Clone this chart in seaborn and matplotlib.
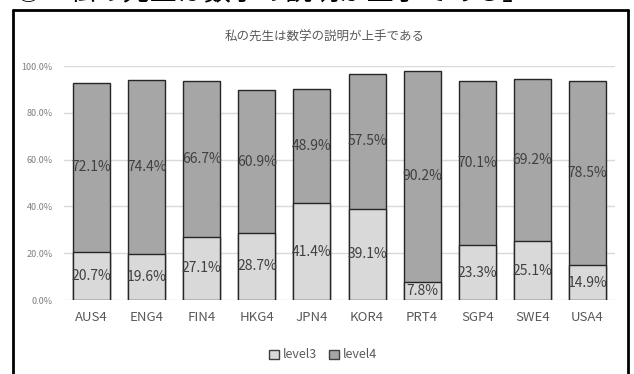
import matplotlib
matplotlib.use("Agg")
import matplotlib.pyplot as plt
import seaborn as sns
import pandas as pd
from matplotlib.patches import Patch
from matplotlib.lines import Line2D
from matplotlib.ticker import FuncFormatter

# Data
countries = ["AUS4", "ENG4", "FIN4", "HKG4", "JPN4", "KOR4", "PRT4", "SGP4", "SWE4", "USA4"]
level3 = [20.7, 19.6, 27.1, 28.7, 41.4, 39.1, 7.8, 23.3, 25.1, 14.9]
level4 = [72.1, 74.4, 66.7, 60.9, 48.9, 57.5, 90.2, 70.1, 69.2, 78.5]
series_names = ["level3", "level4"]
chart_title = "私の先生は数学の説明が上手である"
heading = "①「私の先生は数学の説明が上手である」"

sns.set_theme(style="white")
plt.rcParams["font.family"] = ["Noto Sans CJK JP", "DejaVu Sans"]

df = pd.DataFrame({"country": countries, "level3": level3, "level4": level4})
df["total"] = df["level3"] + df["level4"]

c3, c4 = "#d9d9d9", "#a6a6a6"
edge = "#262626"

W, H = 634, 374
fig = plt.figure(figsize=(W / 100, H / 100), dpi=100)
ax = fig.add_axes([64 / W, 1 - 300 / H, (615 - 64) / W, (300 - 66) / H])

# Stacked bars: full height in the level4 colour, level3 drawn over it
sns.barplot(data=df, x="country", y="total", color=c4, saturation=1,
            width=0.67, edgecolor=edge, linewidth=1.0, ax=ax, zorder=3)
sns.barplot(data=df, x="country", y="level3", color=c3, saturation=1,
            width=0.67, edgecolor=edge, linewidth=1.0, ax=ax, zorder=4)

# Segment value labels
for i, (a, b) in enumerate(zip(level3, level4)):
    ax.text(i, a / 2, f"{a:.1f}%", ha="center", va="center",
            fontsize=10, color="#404040", zorder=5)
    ax.text(i, a + b / 2, f"{b:.1f}%", ha="center", va="center",
            fontsize=10, color="#404040", zorder=5)

ax.set_ylim(0, 100)
ax.set_xlim(-0.5, len(countries) - 0.5)
ax.set_yticks([0, 20, 40, 60, 80, 100])
ax.yaxis.set_major_formatter(FuncFormatter(lambda v, p: f"{v:.1f}%"))
ax.grid(axis="y", color="#d9d9d9", linewidth=1.0, zorder=0)
ax.grid(axis="x", visible=False)
for s in ax.spines.values():
    s.set_visible(False)
ax.tick_params(axis="y", labelsize=6.5, labelcolor="#7f7f7f", length=0, pad=8)
ax.tick_params(axis="x", labelsize=9.5, labelcolor="#595959", length=0, pad=8)
ax.set_xlabel("")
ax.set_ylabel("")

# Title
fig.text(325 / W, 1 - 37 / H, chart_title, ha="center", va="center",
         fontsize=9, color="#595959")

# Legend
handles = [Patch(facecolor=c3, edgecolor="#404040", linewidth=1.0),
           Patch(facecolor=c4, edgecolor="#404040", linewidth=1.0)]
fig.legend(handles, series_names, loc="center", bbox_to_anchor=(323 / W, 1 - 355 / H),
           ncol=2, frameon=False, fontsize=9, labelcolor="#595959",
           handlelength=0.75, handleheight=0.75, handletextpad=0.3, columnspacing=1.0)

# Outer frame of the chart panel
lw = 2.0
fig.add_artist(Line2D([12.5 / W, 12.5 / W], [0, 1 - 9.5 / H], transform=fig.transFigure,
                      color="black", linewidth=lw))
fig.add_artist(Line2D([627.5 / W, 627.5 / W], [0, 1 - 9.5 / H], transform=fig.transFigure,
                      color="black", linewidth=lw))
fig.add_artist(Line2D([12.5 / W, 627.5 / W], [1 - 9.5 / H, 1 - 9.5 / H],
                      transform=fig.transFigure, color="black", linewidth=lw))

# Heading above the panel, cut by the top edge
fig.text(14 / W, 1 + 8 / H, heading, ha="left", va="center", fontsize=19.5, color="black")

fig.savefig("out.png", dpi=100)
